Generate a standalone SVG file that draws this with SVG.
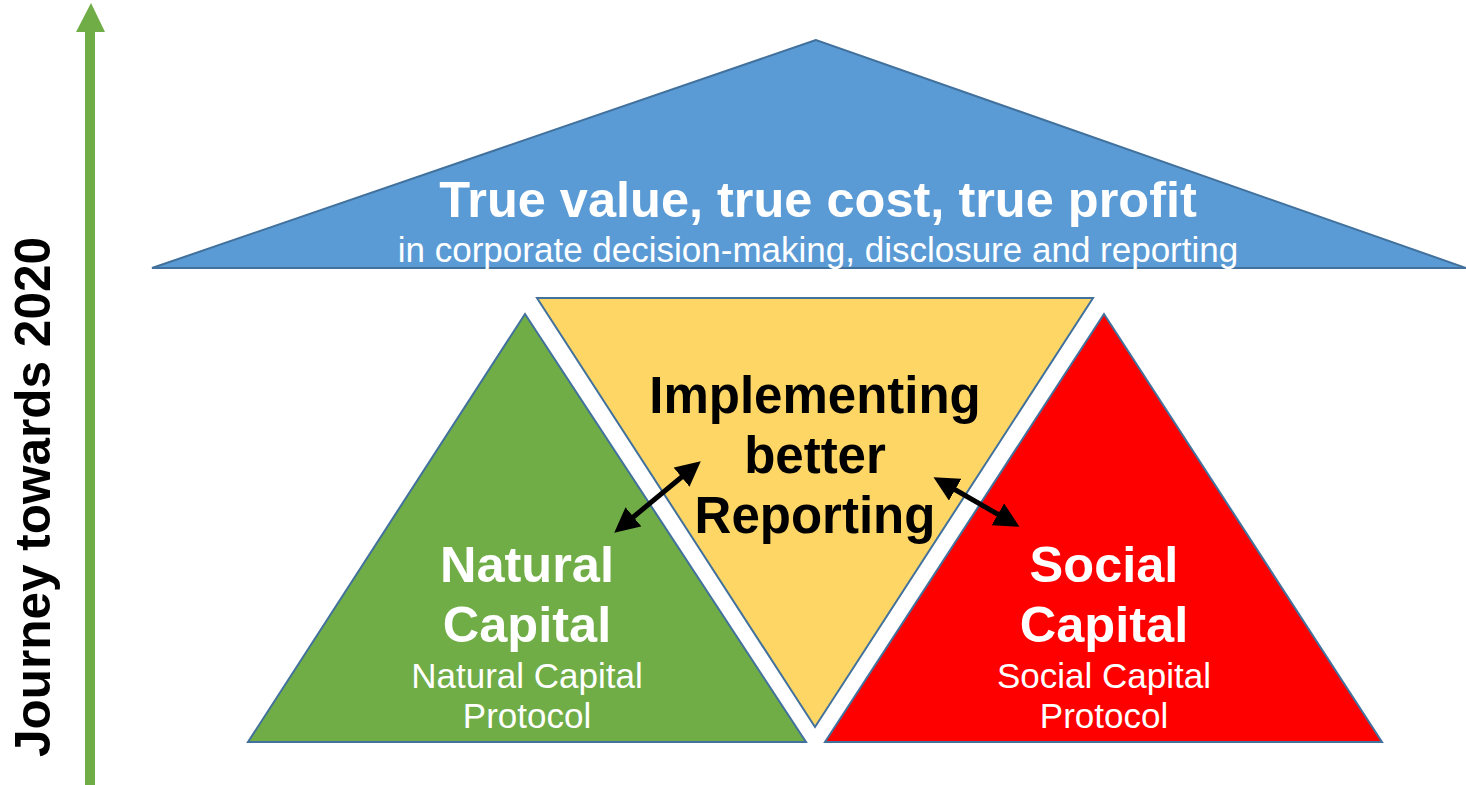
<svg xmlns="http://www.w3.org/2000/svg" width="1466" height="785" viewBox="0 0 1466 785">
<style>
.tri{stroke:#41719c;stroke-width:2}
.b{font-family:"Liberation Sans",Arial,sans-serif;font-weight:bold;text-anchor:middle}
.r{font-family:"Liberation Sans",Arial,sans-serif;text-anchor:middle}
.w{fill:#fff}
.k{fill:#000}
.con{stroke:#000;stroke-width:5;fill:none;marker-start:url(#ah);marker-end:url(#ah)}
</style>
<defs>
<marker id="ah" viewBox="0 0 10 10" refX="7" refY="5" markerWidth="5" markerHeight="5" orient="auto-start-reverse" markerUnits="strokeWidth">
<path d="M0,0 L10,5 L0,10 Z" fill="#000"/>
</marker>
</defs>
<rect width="1466" height="785" fill="#fff"/>
<g id="journey">
<polygon points="85,785 85,32 76,32 91,3 105,32 95,32 95,785" fill="#70ad47"/>
<text class="b k" font-size="49.5" transform="translate(50,497) rotate(-90)">Journey towards 2020</text>
</g>
<g id="roof">
<polygon class="tri" points="816,40 152,268 1466,268" fill="#5b9bd5"/>
<text class="b w" x="818" y="217" font-size="50.5">True value, true cost, true profit</text>
<text class="r w" x="818" y="262" font-size="35">in corporate decision-making, disclosure and reporting</text>
</g>
<g id="reporting">
<polygon class="tri" points="537,298 1093,298 815,727" fill="#fdd666"/>
<text class="b k" x="815" y="413" font-size="51">Implementing</text>
<text class="b k" x="815" y="473" font-size="51">better</text>
<text class="b k" x="815" y="533" font-size="51">Reporting</text>
</g>
<g id="natural">
<polygon class="tri" points="525,314 248,742 806,742" fill="#70ad47"/>
<text class="b w" x="527" y="582" font-size="50.5">Natural</text>
<text class="b w" x="527" y="642" font-size="50.5">Capital</text>
<text class="r w" x="527" y="688" font-size="35">Natural Capital</text>
<text class="r w" x="527" y="728" font-size="35">Protocol</text>
</g>
<g id="social">
<polygon class="tri" points="1104,314 825,742 1382,742" fill="#ff0000"/>
<text class="b w" x="1104" y="582" font-size="50.5">Social</text>
<text class="b w" x="1104" y="642" font-size="50.5">Capital</text>
<text class="r w" x="1104" y="688" font-size="35">Social Capital</text>
<text class="r w" x="1104" y="728" font-size="35">Protocol</text>
</g>
<g id="connectors">
<line class="con" x1="620" y1="528" x2="695" y2="466"/>
<line class="con" x1="940" y1="481" x2="1013" y2="523"/>
</g>
</svg>
